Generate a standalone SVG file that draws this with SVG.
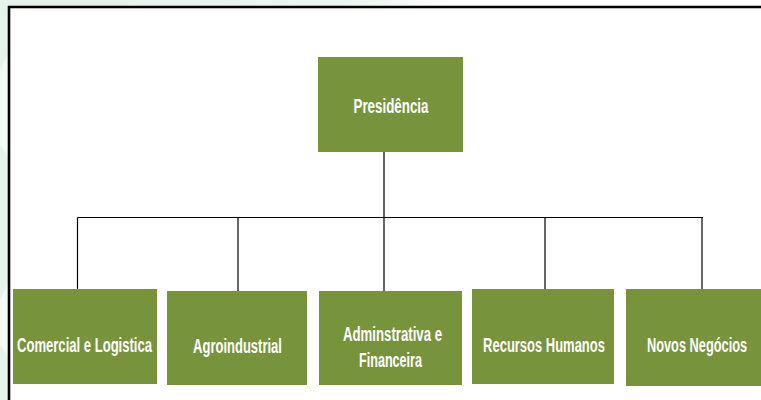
<svg xmlns="http://www.w3.org/2000/svg" width="761" height="400" viewBox="0 0 761 400">
  <defs>
    <linearGradient id="bgTop" x1="0" y1="0" x2="1" y2="0">
      <stop offset="0" stop-color="#E3F2EA"/>
      <stop offset="0.45" stop-color="#EAF5EF"/>
      <stop offset="0.6" stop-color="#FFFFFF"/>
    </linearGradient>
  </defs>
  <style>
    .box { fill: #77933C; }
    .lbl { fill: #FFFFFF; font-family: "Liberation Sans", Arial, sans-serif; font-weight: bold; font-size: 20px; text-anchor: middle; }
    .conn line { stroke: #000000; stroke-width: 1.2; }
  </style>
  <!-- background -->
  <rect x="0" y="0" width="761" height="400" fill="#FFFFFF"/>
  <rect x="0" y="0" width="761" height="8" fill="url(#bgTop)"/>
  <rect x="0" y="0" width="9" height="400" fill="#E5F3EB"/>
  <path d="M0 70 Q5 60 9 52 L9 160 Q4 150 0 145 Z" fill="#F4FAF6"/>
  <path d="M0 300 Q5 290 9 280 L9 360 Q4 350 0 345 Z" fill="#F4FAF6"/>
  <!-- frame -->
  <path d="M9 400 L9 7 L761 7" fill="none" stroke="#000000" stroke-width="2.6"/>

  <g class="conn" id="connectors">
    <line x1="384" y1="152" x2="384" y2="217.5"/>
    <line x1="77.5" y1="217.5" x2="703" y2="217.5"/>
    <line x1="77.5" y1="217.5" x2="77.5" y2="289"/>
    <line x1="238" y1="217.5" x2="238" y2="291" stroke="#555555"/>
    <line x1="384" y1="217.5" x2="384" y2="291"/>
    <line x1="545" y1="217.5" x2="545" y2="289" stroke="#555555"/>
    <line x1="702" y1="217.5" x2="702" y2="289"/>
  </g>

  <g id="presidencia">
    <rect class="box" x="318" y="57" width="145" height="95"/>
    <text class="lbl" transform="translate(391 113) scale(0.6 1)" textLength="125" lengthAdjust="spacingAndGlyphs">Presidência</text>
  </g>
  <g id="comercial">
    <rect class="box" x="13" y="289" width="144" height="95"/>
    <text class="lbl" transform="translate(84.5 352) scale(0.6 1)" textLength="225" lengthAdjust="spacingAndGlyphs">Comercial e Logistica</text>
  </g>
  <g id="agroindustrial">
    <rect class="box" x="167" y="291" width="140" height="94"/>
    <text class="lbl" transform="translate(237.5 353) scale(0.6 1)" textLength="148" lengthAdjust="spacingAndGlyphs">Agroindustrial</text>
  </g>
  <g id="administrativa">
    <rect class="box" x="319" y="291" width="143" height="94"/>
    <text class="lbl" transform="translate(392.5 341) scale(0.6 1)" textLength="165" lengthAdjust="spacingAndGlyphs">Adminstrativa e</text>
    <text class="lbl" transform="translate(390.5 367) scale(0.6 1)" textLength="105" lengthAdjust="spacingAndGlyphs">Financeira</text>
  </g>
  <g id="recursos">
    <rect class="box" x="472" y="289" width="142" height="95"/>
    <text class="lbl" transform="translate(544 352) scale(0.6 1)" textLength="203" lengthAdjust="spacingAndGlyphs">Recursos Humanos</text>
  </g>
  <g id="novos">
    <rect class="box" x="626" y="289" width="135" height="97"/>
    <text class="lbl" transform="translate(697 352) scale(0.6 1)" textLength="167" lengthAdjust="spacingAndGlyphs">Novos Negócios</text>
  </g>
</svg>
